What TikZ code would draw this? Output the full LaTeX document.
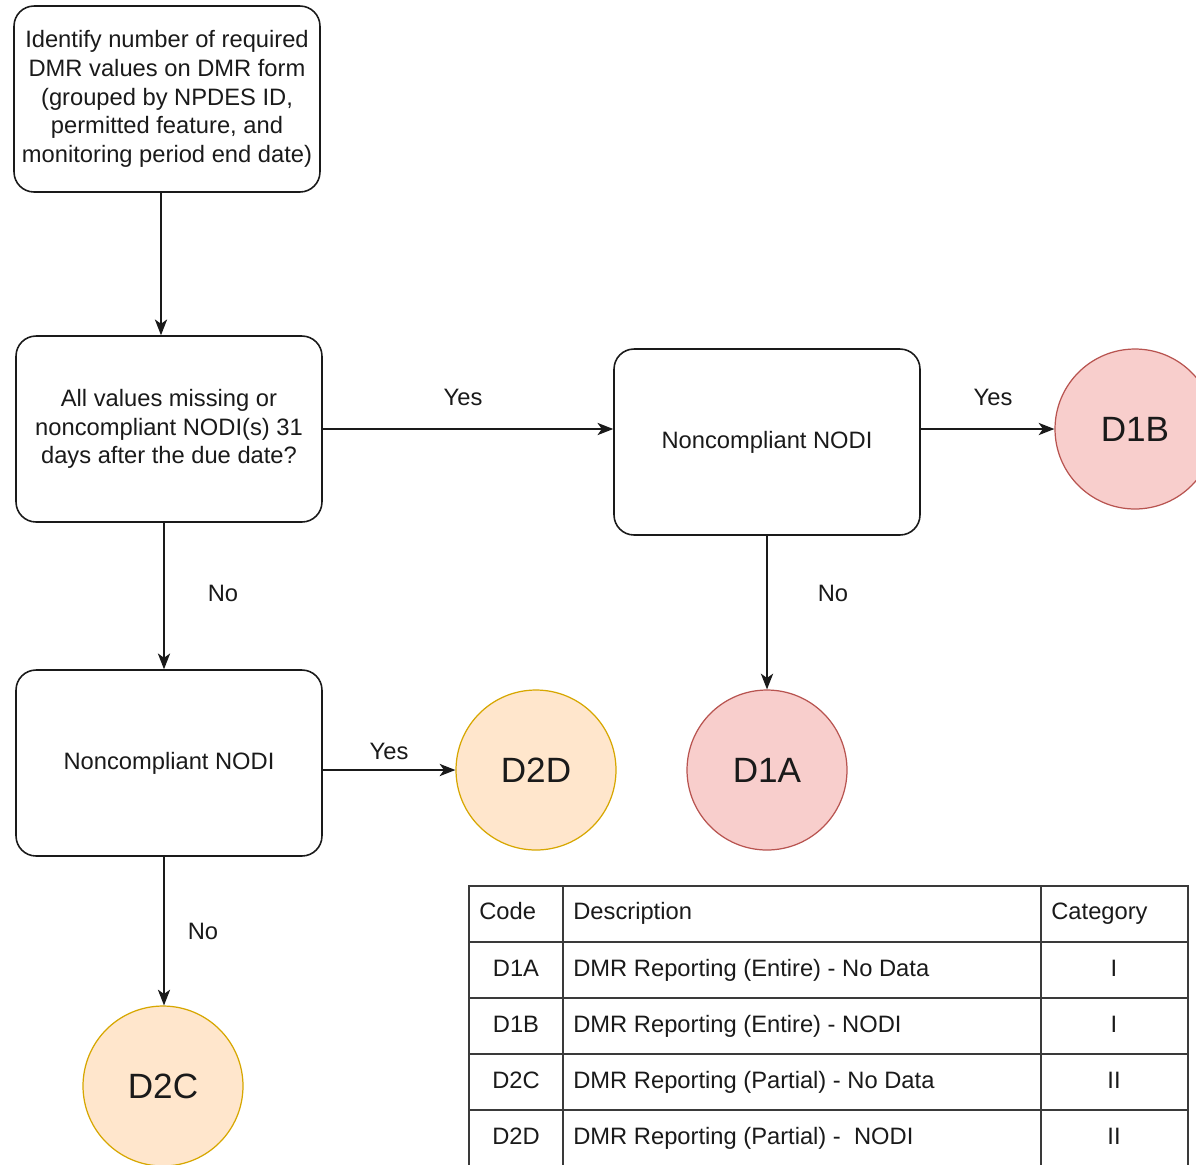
\documentclass[tikz,border=0pt]{standalone}
\usepackage{fontspec}
\setmainfont{Liberation Sans}
\usetikzlibrary{arrows.meta,positioning}
\definecolor{RedFill}{HTML}{F8CECC}
\definecolor{RedLine}{HTML}{B85450}
\definecolor{OrangeFill}{HTML}{FFE6CC}
\definecolor{OrangeLine}{HTML}{D7A700}
\definecolor{Ink}{HTML}{1A1A1A}
\definecolor{Rule}{HTML}{3A3A3A}

\begin{document}
\begin{tikzpicture}[x=0.02cm,y=-0.02cm,
    stepbox/.style={draw=Ink,line width=0.9pt,rounded corners=0.4cm,minimum width=6.12cm,minimum height=3.72cm,inner sep=2pt,align=center,text=Ink,font=\fontsize{13.5}{16.4}\selectfont},
    redcode/.style={circle,draw=RedLine,line width=0.7pt,fill=RedFill,minimum size=3.2cm,text=Ink,font=\fontsize{20}{24}\selectfont},
    orangecode/.style={circle,draw=OrangeLine,line width=0.7pt,fill=OrangeFill,minimum size=3.2cm,text=Ink,font=\fontsize{20}{24}\selectfont},
    flow/.style={draw=Ink,line width=0.8pt,-{Stealth[length=9pt,width=7pt,inset=2.5pt]}},
    answer/.style={text=Ink,font=\fontsize{13.5}{16}\selectfont},
    cell/.style={text=Ink,inner sep=0pt,text height=10pt,text depth=3pt,font=\fontsize{13.5}{16}\selectfont}]
    \useasboundingbox (0,0) rectangle (1196,1164);
    \clip (0,0) rectangle (1196,1164);
    \fill[white] (0,0) rectangle (1196,1164);

    % boxes of the flow
    \node[stepbox] (identify) at (167,99) {Identify number of required\\DMR values on DMR form\\(grouped by NPDES ID,\\permitted feature, and\\monitoring period end date)};
    \node[stepbox] (check) at (169,429) {All values missing or\\noncompliant NODI(s) 31\\days after the due date?};
    \node[stepbox] (nodi) at (767,442) {Noncompliant NODI};
    \node[stepbox] (partial) at (169,763) {Noncompliant NODI};

    % violation codes
    \node[redcode] (d1b) at (1135,429) {D1B};
    \node[redcode] (d1a) at (767,770) {D1A};
    \node[orangecode] (d2d) at (536,770) {D2D};
    \node[orangecode] (d2c) at (163,1086) {D2C};

    \draw[flow] ([xshift=-0.12cm]identify.south) -- ([xshift=-0.12cm]identify.south |- check.north);
    \draw[flow] (check.east) -- (check.east -| nodi.west);
    \draw[flow] (d1b.west -| nodi.east) -- (d1b.west);
    \draw[flow] (nodi.south) -- (d1a.north);
    \draw[flow] ([xshift=-0.1cm]check.south) -- ([xshift=-0.1cm]check.south |- partial.north);
    \draw[flow] (d2d.west -| partial.east) -- (d2d.west);
    \draw[flow] ([xshift=-0.1cm]partial.south) -- ([xshift=-0.1cm]partial.south |- d2c.north);

    \node[answer] (yes1) at (463,397) {Yes};
    \node[answer] (yes2) at (993,397) {Yes};
    \node[answer] (no1) at (833,593) {No};
    \node[answer] (no2) at (223,593) {No};
    \node[answer] (yes3) at (389,751) {Yes};
    \node[answer] (no3) at (203,931) {No};

    % legend table
    \draw[Rule,line width=0.8pt] (469,886) rectangle (1188,1166);
    \foreach \x in {563,1041}{\draw[Rule,line width=0.8pt] (\x,886) -- (\x,1166);}
    \foreach \y in {942,998,1054,1110}{\draw[Rule,line width=0.8pt] (469,\y) -- (1188,\y);}
    \node[cell,anchor=west] (codehead) at (479,913) {Code};
    \node[cell,anchor=west] (deschead) at (573,913) {Description};
    \node[cell,anchor=west] (cathead) at (1051,913) {Category};
    \foreach \code/\desc/\cat/\y in {D1A/{DMR Reporting (Entire) - No Data}/I/970,
                                      D1B/{DMR Reporting (Entire) - NODI}/I/1026,
                                      D2C/{DMR Reporting (Partial) - No Data}/II/1082,
                                      D2D/{DMR Reporting (Partial) -~ NODI}/II/1138}{
      \node[cell] (code\code) at (516,\y) {\code};
      \node[cell,anchor=west] (desc\code) at (573,\y) {\desc};
      \node[cell] (cat\code) at (1114,\y) {\cat};
    }
\end{tikzpicture}
\end{document}
